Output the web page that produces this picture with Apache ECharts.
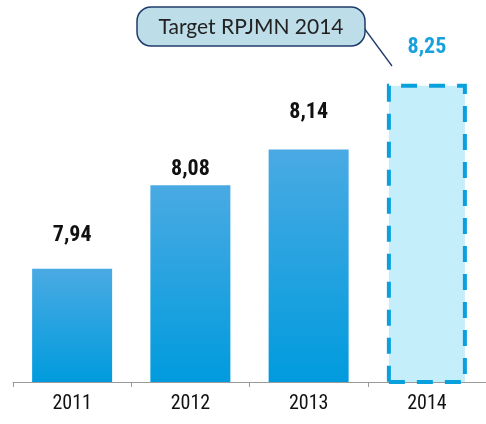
<!DOCTYPE html>
<html><head><meta charset="utf-8">
<script src="https://cdn.jsdelivr.net/npm/echarts@6/dist/echarts.min.js"></script>
<style>html,body{margin:0;padding:0;background:#fff}#c{width:486px;height:424px}</style>
</head><body><div id="c"></div>
<script>
var categories = ['2011', '2012', '2013', '2014'];
var values = [7.94, 8.08, 8.14, 8.25];
var labelGaps = [22, 5, 26, 25];
var targetIndex = 3;
var calloutText = 'Target RPJMN 2014';

var chart = echarts.init(document.getElementById('c'));
var FONT = '"Roboto Condensed","DejaVu Sans Condensed",sans-serif';
var grad = new echarts.graphic.LinearGradient(0, 0, 0, 1, [
  {offset: 0, color: '#4aaae3'}, {offset: 1, color: '#009bdd'}
]);
var data = values.map(function (v, i) {
  var d = {value: v, label: {distance: labelGaps[i]}};
  if (i === targetIndex) {
    d.itemStyle = {color: '#c5eefb', borderColor: '#0aa0dc', borderWidth: 4, borderType: [16, 12]};
    d.label.color = '#19a1dd';
  }
  return d;
});
chart.setOption({
  animation: false,
  grid: {left: 13, right: 0, top: 54, bottom: 42},
  xAxis: {
    type: 'category', data: categories, boundaryGap: true,
    axisLine: {lineStyle: {color: '#9a9a9a', width: 1}},
    axisTick: {show: true, length: 5, lineStyle: {color: '#9a9a9a'}},
    axisLabel: {fontFamily: FONT, fontSize: 20, color: '#111', margin: 12}
  },
  yAxis: {type: 'value', min: 7.75, max: 8.3, show: false, splitLine: {show: false}},
  series: [{
    type: 'bar', barWidth: 80, data: data,
    itemStyle: {color: grad},
    label: {
      show: true, position: 'top', fontFamily: FONT, fontWeight: 'bold', fontSize: 22, color: '#111',
      formatter: function (p) { return p.value.toFixed(2).replace('.', ','); }
    }
  }],
  graphic: [
    {type: 'line', shape: {x1: 364, y1: 28, x2: 392, y2: 66}, style: {stroke: '#1f3b6b', lineWidth: 1.3}},
    {type: 'rect', shape: {x: 137, y: 7, width: 228, height: 39, r: 14},
     style: {fill: '#bddde9', stroke: '#1f3b6b', lineWidth: 1.5}},
    {type: 'text', x: 251, y: 27, style: {text: calloutText, fontFamily: 'Lato,"Open Sans",sans-serif', fontSize: 21, fill: '#222', align: 'center', verticalAlign: 'middle'}}
  ]
});
</script></body></html>
